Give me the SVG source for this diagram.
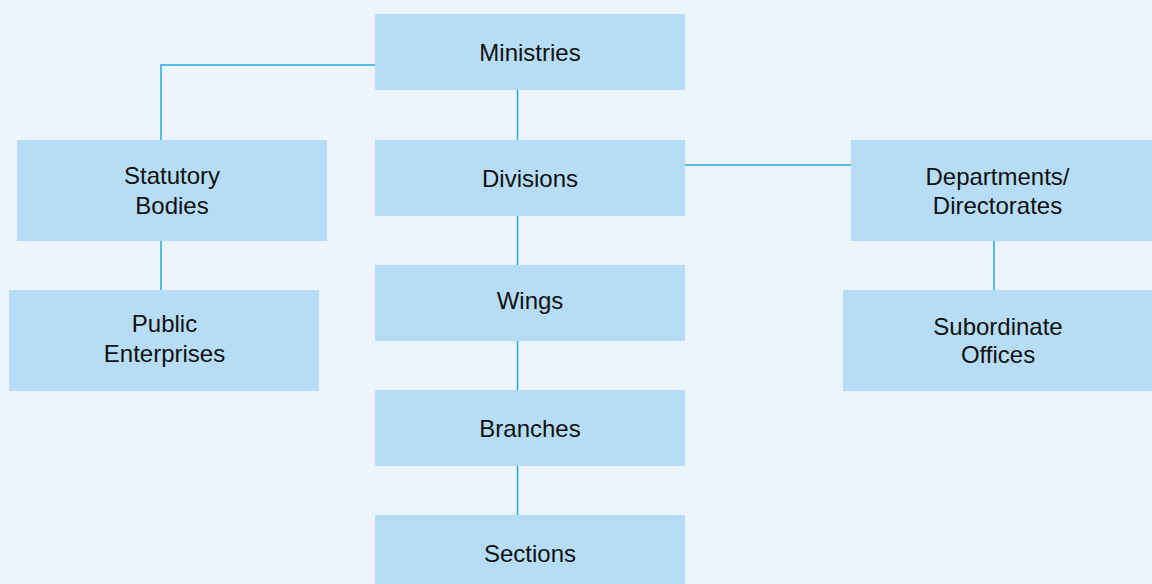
<svg xmlns="http://www.w3.org/2000/svg" width="1152" height="584" viewBox="0 0 1152 584">
<style>
.box{fill:#B6DDF5}
.lbl{font-family:"Liberation Sans",Arial,sans-serif;font-size:24px;fill:#111;text-anchor:middle}
.conn{stroke:#22AAE2;stroke-width:1.5;fill:none}
</style>
<rect width="1152" height="584" fill="#EDF4FB"/>
<g id="connectors">
<polyline class="conn" points="375,65 161,65 161,140"/>
<line class="conn" x1="161" y1="241" x2="161" y2="290"/>
<line class="conn" x1="517.5" y1="90" x2="517.5" y2="140"/>
<line class="conn" x1="517.5" y1="216" x2="517.5" y2="265"/>
<line class="conn" x1="517.5" y1="341" x2="517.5" y2="390"/>
<line class="conn" x1="517.5" y1="466" x2="517.5" y2="515"/>
<line class="conn" x1="685" y1="165" x2="851" y2="165"/>
<line class="conn" x1="994" y1="241" x2="994" y2="290"/>
</g>
<g id="ministries"><rect class="box" x="375" y="14" width="310" height="76"/><text class="lbl" x="530" y="61">Ministries</text></g>
<g id="divisions"><rect class="box" x="375" y="140" width="310" height="76"/><text class="lbl" x="530" y="187">Divisions</text></g>
<g id="wings"><rect class="box" x="375" y="265" width="310" height="76"/><text class="lbl" x="530" y="309">Wings</text></g>
<g id="branches"><rect class="box" x="375" y="390" width="310" height="76"/><text class="lbl" x="530" y="437">Branches</text></g>
<g id="sections"><rect class="box" x="375" y="515" width="310" height="76"/><text class="lbl" x="530" y="562">Sections</text></g>
<g id="statutory"><rect class="box" x="17" y="140" width="310" height="101"/><text class="lbl" x="172" y="184">Statutory</text><text class="lbl" x="172" y="213.5">Bodies</text></g>
<g id="public"><rect class="box" x="9" y="290" width="310" height="101"/><text class="lbl" x="164.5" y="332">Public</text><text class="lbl" x="164.5" y="361.5">Enterprises</text></g>
<g id="departments"><rect class="box" x="851" y="140" width="310" height="101"/><text class="lbl" x="997.5" y="185">Departments/</text><text class="lbl" x="997.5" y="213.5">Directorates</text></g>
<g id="subordinate"><rect class="box" x="843" y="290" width="310" height="101"/><text class="lbl" x="998" y="334.5">Subordinate</text><text class="lbl" x="998" y="363">Offices</text></g>
</svg>
